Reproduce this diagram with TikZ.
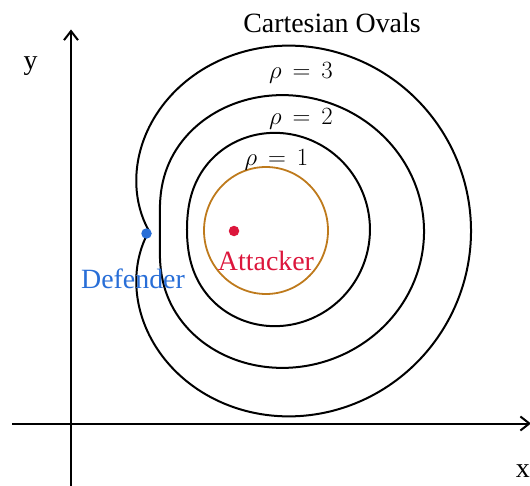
\documentclass[tikz,border=0pt]{standalone}
\usepackage{fontspec}
\setmainfont{Liberation Serif}
\usetikzlibrary{arrows.meta}
\definecolor{defblue}{RGB}{40,110,215}
\definecolor{attred}{RGB}{220,22,60}
\definecolor{capring}{RGB}{190,122,28}
\tikzset{
  axis/.style={line width=2bp, -{Straight Barb[length=9bp,width=14bp]}},
  oval/.style={line width=2bp, line join=round},
  lab/.style={font=\fontsize{28}{30}\selectfont, inner sep=0pt, anchor=base},
  rholab/.style={font=\fontsize{26}{28}\selectfont, inner sep=0pt, anchor=base},
  dot/.style={circle, inner sep=0pt, minimum size=10.5bp}
}
\begin{document}
\begin{tikzpicture}[x=1bp, y=-1bp,
  declare function={
    ovb(\t,\a,\c,\d) = \c + \a*\a*\d*cos(\t);
    ovr(\t,\a,\c,\d) = (ovb(\t,\a,\c,\d) + sqrt(max(0, ovb(\t,\a,\c,\d)^2 - (1-\a*\a)*(\c*\c-\a*\a*\d*\d))))/(1-\a*\a);
  }]
\useasboundingbox (0,0) rectangle (530,486);

% axes
\coordinate (yb) at (71,486);
\coordinate (yt) at (71,29.5);
\coordinate (xl) at (12,423.5);
\coordinate (xr) at (531,423.5);
\draw[axis] (yb) -- (yt);
\draw[axis] (xl) -- (xr);
\node[lab] (ylab) at (30.5,70) {y};
\node[lab, anchor=base east] (xlab) at (530,477) {x};

% Cartesian ovals (attacker focus at (232,231))
\draw[oval] plot[domain=0:360, samples=361, variable=\t]
  ({232 + ovr(\t,0.4845,83,83)*cos(\t)}, {231 - 0.985*ovr(\t,0.4845,83,83)*sin(\t)}) -- cycle;
\draw[oval] plot[domain=0:360, samples=361, variable=\t]
  ({232 + ovr(\t,0.4545,59.3,100)*cos(\t)}, {231.5 - 0.933*ovr(\t,0.4545,59.3,100)*sin(\t)}) -- cycle;
\draw[oval] plot[domain=0:360, samples=361, variable=\t]
  ({232 + ovr(\t,0.508,25.7,83)*cos(\t)}, {229.5 - 0.99*ovr(\t,0.508,25.7,83)*sin(\t)}) -- cycle;

% capture circle
\draw[capring, line width=1.8bp] (266,230.5) ellipse [x radius=62, y radius=63.5];

% players
\node[dot, fill=defblue] (D) at (146.5,233.5) {};
\node[dot, fill=attred] (A) at (234,231) {};
\node[lab, text=defblue] (Dlab) at (133,288.5) {Defender};
\node[lab, text=attred] (Alab) at (266,270) {Attacker};

% labels
\node[lab] (title) at (332,32.5) {Cartesian Ovals};
\node[rholab] (r3) at (301,78.5) {$\rho\,=\,3$};
\node[rholab] (r2) at (301,124.5) {$\rho\,=\,2$};
\node[rholab] (r1) at (276.5,165.5) {$\rho\,=\,1$};
\end{tikzpicture}
\end{document}
